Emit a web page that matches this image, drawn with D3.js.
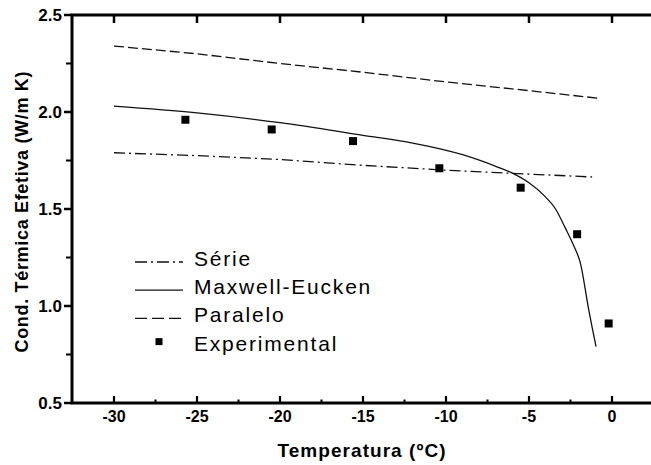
<!DOCTYPE html>
<html>
<head>
<meta charset="utf-8">
<script src="https://cdn.jsdelivr.net/npm/d3@7"></script>
<style>
  body { margin: 0; background: #fff; }
  svg { display: block; font-family: 'Liberation Sans', Arial, sans-serif; }
</style>
</head>
<body>
<div id="chart"></div>
<script>
// Data
const serieTemp = [-30, -25, -20, -15, -10, -5, -1.2];
const serieVals = [1.79, 1.775, 1.755, 1.725, 1.70, 1.68, 1.665];

const maxwellTemp = [-30, -25, -20, -15, -12, -9, -7, -6, -5, -4.1, -3.4, -2.8, -2.3, -1.9, -1.4, -0.96];
const maxwellVals = [2.03, 1.995, 1.945, 1.88, 1.84, 1.78, 1.72, 1.685, 1.635, 1.57, 1.50, 1.40, 1.31, 1.22, 0.98, 0.79];

const paraleloTemp = [-30, -25, -20, -15, -10, -5, -0.7];
const paraleloVals = [2.34, 2.30, 2.25, 2.205, 2.155, 2.11, 2.07];

const expTemp = [-25.7, -20.5, -15.6, -10.4, -5.5, -2.1, -0.2];
const expVals = [1.96, 1.91, 1.85, 1.71, 1.61, 1.37, 0.91];

const xTicks = [-30, -25, -20, -15, -10, -5, 0];
const yTicks = [0.5, 1.0, 1.5, 2.0, 2.5];
const legendLabels = ['Série', 'Maxwell-Eucken', 'Paralelo', 'Experimental'];

const W = 651, H = 465;
const margin = {top: 15, right: 0, bottom: 62, left: 72};

const svg = d3.select('#chart').append('svg')
    .attr('width', W)
    .attr('height', H);

const x = d3.scaleLinear().domain([-32.53, 2.35]).range([margin.left, W - margin.right]);
const y = d3.scaleLinear().domain([0.5, 2.5]).range([H - margin.bottom, margin.top]);
const x0 = x.range()[0], yB = y(0.5), yT = y(2.5);

// Frame: top, left, bottom as one polyline
svg.append('path')
    .attr('d', `M${W},${yT}H${x0}V${yB}H${W}`)
    .attr('fill', 'none')
    .attr('stroke', '#000')
    .attr('stroke-width', 3);

// Tick labels
svg.append('g').selectAll('text').data(xTicks).join('text')
    .attr('x', d => x(d)).attr('y', 421.5)
    .attr('text-anchor', 'middle')
    .style('font-size', '16px').style('font-weight', 'bold')
    .text(d => d);

svg.append('g').selectAll('text').data(yTicks).join('text')
    .attr('x', 62).attr('y', d => y(d)).attr('dy', '0.36em')
    .attr('text-anchor', 'end')
    .style('font-size', '17px').style('font-weight', 'bold')
    .text(d3.format('.1f'));

// Axis titles
svg.append('text')
    .attr('x', (x0 + W) / 2).attr('y', 456.5)
    .attr('text-anchor', 'middle')
    .attr('textLength', 168).attr('lengthAdjust', 'spacing')
    .style('font-size', '19px').style('font-weight', 'bold')
    .text('Temperatura (ºC)');

svg.append('text')
    .attr('transform', 'translate(28,212) rotate(-90)')
    .attr('text-anchor', 'middle')
    .attr('textLength', 281).attr('lengthAdjust', 'spacing')
    .style('font-size', '18px').style('font-weight', 'bold')
    .text('Cond. Térmica Efetiva (W/m K)');

// Lines
const line = d3.line().x(d => x(d[0])).y(d => y(d[1]));
const smooth = d3.line().x(d => x(d[0])).y(d => y(d[1])).curve(d3.curveMonotoneX);

svg.append('path')
    .datum(d3.zip(paraleloTemp, paraleloVals))
    .attr('d', line)
    .attr('fill', 'none').attr('stroke', '#111').attr('stroke-width', 1.3)
    .attr('stroke-dasharray', '10,4');

svg.append('path')
    .datum(d3.zip(serieTemp, serieVals))
    .attr('d', line)
    .attr('fill', 'none').attr('stroke', '#111').attr('stroke-width', 1.3)
    .attr('stroke-dasharray', '11,4,2,4');

svg.append('path')
    .datum(d3.zip(maxwellTemp, maxwellVals))
    .attr('d', smooth)
    .attr('fill', 'none').attr('stroke', '#111').attr('stroke-width', 1.3);

const sq = 8;
svg.append('g').selectAll('rect')
    .data(d3.zip(expTemp, expVals)).join('rect')
    .attr('x', d => x(d[0]) - sq / 2).attr('y', d => y(d[1]) - sq / 2)
    .attr('width', sq).attr('height', sq)
    .attr('fill', '#000');

// Legend
const legend = svg.append('g');
const legX0 = 135, legX1 = 183, textX = 194, base0 = 266, step = 28.2;
const legStyles = [
    {dash: '12,4,2,4', kind: 'line'},
    {dash: null, kind: 'line'},
    {dash: '12,5', kind: 'line'},
    {dash: null, kind: 'square'}
];
legendLabels.forEach((label, i) => {
    const base = base0 + i * step;
    const st = legStyles[i];
    if (st.kind === 'line') {
        legend.append('line')
            .attr('x1', legX0).attr('x2', legX1)
            .attr('y1', base - 4).attr('y2', base - 4)
            .attr('stroke', '#111').attr('stroke-width', 1.3)
            .attr('stroke-dasharray', st.dash);
    } else {
        legend.append('rect')
            .attr('x', 159 - 3.5).attr('y', base - 9 - 3.5)
            .attr('width', 7).attr('height', 7)
            .attr('fill', '#000');
    }
    legend.append('text')
        .attr('x', textX).attr('y', base)
        .style('font-size', '21px').style('letter-spacing', '1.8px')
        .text(label);
});

// ticks
const ticks = svg.append('g').attr('stroke', '#000').attr('fill', 'none');
ticks.selectAll('line.xb').data(xTicks).join('line').attr('class', 'xb')
    .attr('x1', d => x(d)).attr('x2', d => x(d))
    .attr('y1', yB).attr('y2', yB - 7).attr('stroke-width', 2.2);
ticks.selectAll('line.xm').data(xTicks.map(d => d + 2.5)).join('line').attr('class', 'xm')
    .attr('x1', d => x(d)).attr('x2', d => x(d))
    .attr('y1', yB).attr('y2', yB - 3.5).attr('stroke-width', 2);
ticks.selectAll('line.xt').data(xTicks).join('line').attr('class', 'xt')
    .attr('x1', d => x(d)).attr('x2', d => x(d))
    .attr('y1', yT).attr('y2', yT + 8).attr('stroke-width', 2.5);
ticks.selectAll('line.yl').data(yTicks).join('line').attr('class', 'yl')
    .attr('x1', x0 - 8).attr('x2', x0)
    .attr('y1', d => y(d)).attr('y2', d => y(d)).attr('stroke-width', 2.5);
ticks.selectAll('line.ym').data(yTicks.slice(0, -1).map(d => d + 0.25)).join('line').attr('class', 'ym')
    .attr('x1', x0 - 6).attr('x2', x0)
    .attr('y1', d => y(d)).attr('y2', d => y(d)).attr('stroke-width', 2);
</script>
</body>
</html>
